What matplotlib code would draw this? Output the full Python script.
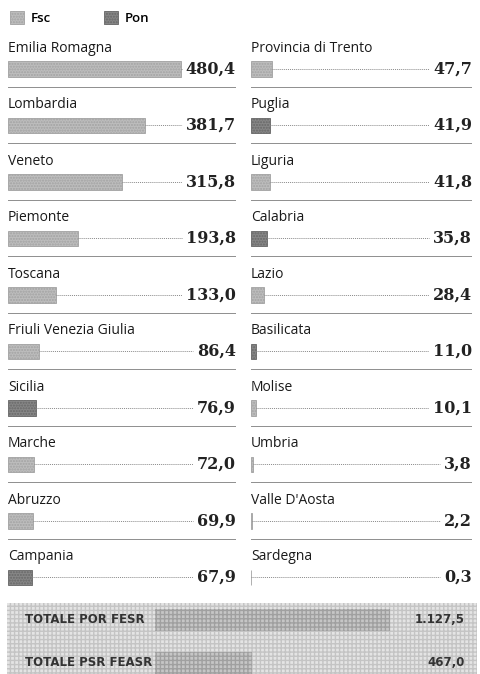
import matplotlib
matplotlib.use("Agg")
import matplotlib.pyplot as plt
from matplotlib.patches import Patch

# dati (milioni di euro)
regioni_sx = ["Emilia Romagna", "Lombardia", "Veneto", "Piemonte", "Toscana",
              "Friuli Venezia Giulia", "Sicilia", "Marche", "Abruzzo", "Campania"]
valori_sx = [480.4, 381.7, 315.8, 193.8, 133.0, 86.4, 76.9, 72.0, 69.9, 67.9]
fondo_sx = ["Fsc", "Fsc", "Fsc", "Fsc", "Fsc", "Fsc", "Pon", "Fsc", "Fsc", "Pon"]

regioni_dx = ["Provincia di Trento", "Puglia", "Liguria", "Calabria", "Lazio",
              "Basilicata", "Molise", "Umbria", "Valle D'Aosta", "Sardegna"]
valori_dx = [47.7, 41.9, 41.8, 35.8, 28.4, 11.0, 10.1, 3.8, 2.2, 0.3]
fondo_dx = ["Fsc", "Pon", "Fsc", "Pon", "Fsc", "Pon", "Fsc", "Fsc", "Fsc", "Fsc"]

totali_nomi = ["TOTALE POR FESR", "TOTALE PSR FEASR"]
totali_valori = [1127.5, 467.0]
totali_label = ["1.127,5", "467,0"]

colori = {"Fsc": "#bdbdbd", "Pon": "#878787"}
tratteggio = {"Fsc": "#a2a2a2", "Pon": "#676767"}

W, H = 480, 674
fig = plt.figure(figsize=(W / 100, H / 100), dpi=100)


def px_axes(x0, y0, x1, y1):
    # pixel box (top-left origin) -> figure axes
    return fig.add_axes([x0 / W, 1 - y1 / H, (x1 - x0) / W, (y1 - y0) / H])


def fmt(v):
    return f"{v:.1f}".replace(".", ",")


def colonna(ax, nomi, valori, fondi, xmax):
    ax.set_xlim(0, xmax)
    ax.set_ylim(len(nomi), 0)
    ax.axis("off")
    renderer = fig.canvas.get_renderer()
    for i, (nome, v, f) in enumerate(zip(nomi, valori, fondi)):
        if i > 0:
            ax.axhline(i, color="#8e8e8e", lw=0.7)
        ax.text(0, i + 0.32, nome, ha="left", va="center", fontsize=10,
                family="Open Sans", color="#1a1a1a")
        ax.barh(i + 0.69, v, height=0.28, left=0, color=colori[f],
                edgecolor=tratteggio[f], hatch="......", lw=0.6)
        t = ax.text(xmax, i + 0.69, fmt(v), ha="right", va="center",
                    fontsize=11.5, family="DejaVu Serif", fontweight="bold",
                    color="#222222")
        bb = t.get_window_extent(renderer)
        x_end = ax.transData.inverted().transform((bb.x0 - 4, 0))[0]
        if x_end > v:
            ax.plot([v, x_end], [i + 0.69, i + 0.69], color="#8a8a8a",
                    lw=0.7, ls=(0, (1, 1)))


ax_sx = px_axes(8, 30, 236, 595)
colonna(ax_sx, regioni_sx, valori_sx, fondo_sx, 633)
ax_dx = px_axes(251, 30, 472, 595)
colonna(ax_dx, regioni_dx, valori_dx, fondo_dx, 491)

# legenda
handles = [Patch(facecolor=colori[k], edgecolor=tratteggio[k], hatch="......",
                 lw=0.6, label=k) for k in ["Fsc", "Pon"]]
fig.legend(handles=handles, loc="upper left", bbox_to_anchor=(-2 / W, 1 + 1 / H),
           ncol=2, frameon=False, handlelength=1.1, handleheight=1.1,
           handletextpad=0.5, columnspacing=4.0,
           prop={"family": "Open Sans", "size": 9.5, "weight": "semibold"})

# totali
ax_t = px_axes(7, 603, 477, 674)
ax_t.set_xlim(-148 / 0.208, 322 / 0.208)
ax_t.set_ylim(1.256, -0.395)
ax_t.axis("off")
ax_t.axhspan(-0.395, 1.256, color="#e4e4e4", zorder=0)
ax_t.axhspan(-0.395, 1.256, facecolor="none", edgecolor="#c4c4c4",
             hatch="++++", lw=0, zorder=0)
ax_t.barh([0, 1], totali_valori, height=0.52, color="#c6c6c6",
          edgecolor="#a0a0a0", hatch="++++", lw=0, zorder=1)
for i, (n, lab) in enumerate(zip(totali_nomi, totali_label)):
    ax_t.text(-130 / 0.208, i, n, ha="left", va="center", fontsize=8.5,
              family="DejaVu Sans", fontweight="bold", color="#333333", zorder=2)
    ax_t.text(310 / 0.208, i, lab, ha="right", va="center", fontsize=8.5,
              family="DejaVu Sans", fontweight="bold", color="#333333", zorder=2)

fig.savefig("out.png", dpi=100)
